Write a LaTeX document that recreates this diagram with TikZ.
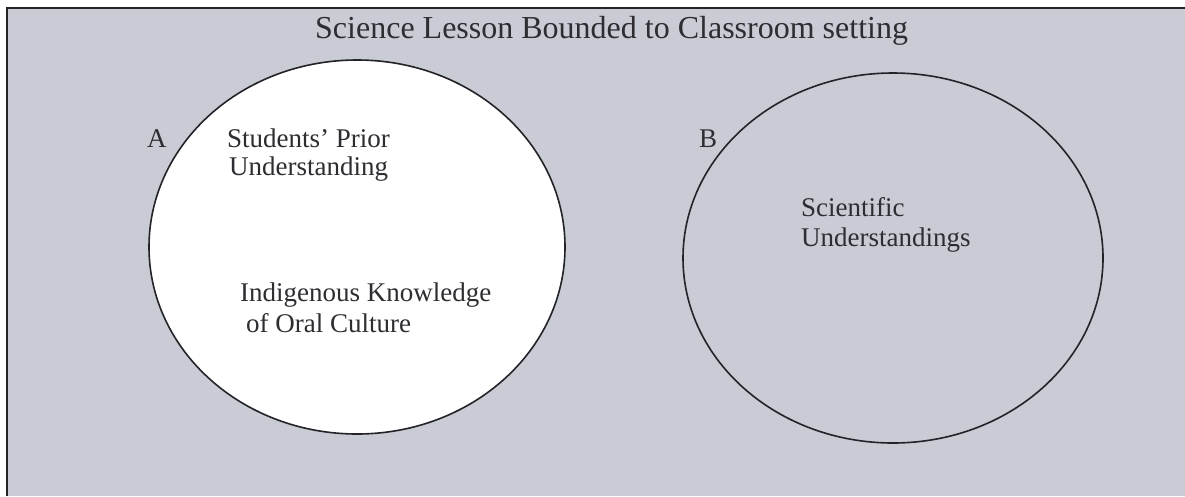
\documentclass[tikz,border=0pt]{standalone}
\usepackage{fontspec}
\setmainfont{Liberation Serif}
\usetikzlibrary{shapes.geometric}
\definecolor{bggray}{RGB}{201,204,213}
\definecolor{ink}{RGB}{45,45,50}
\definecolor{linecol}{RGB}{35,35,40}
\tikzset{
  txt/.style={anchor=base west, inner sep=0pt, text=ink, font=\fontsize{27}{30}\selectfont},
  ttl/.style={anchor=base west, inner sep=0pt, text=ink, font=\fontsize{32}{36}\selectfont},
  circ/.style={ellipse, draw=linecol, line width=1.6pt, inner sep=0pt}
}
\begin{document}
\begin{tikzpicture}[x=1pt,y=-1pt]
\useasboundingbox (0,0) rectangle (1185,496);
\fill[white] (0,0) rectangle (1185,496);
\fill[bggray] (7,8) rectangle (1185,496);
\draw[linecol, line width=1.2pt] (7,496) -- (7,8) -- (1185,8);
\node[ttl] (title) at (315,38) {Science Lesson Bounded to Classroom setting};
\node[circ, fill=white, minimum width=416pt, minimum height=374pt] (A) at (357,247) {};
\node[circ, minimum width=420pt, minimum height=370pt] (B) at (893,258) {};
\node[txt] (la) at (147,147) {A};
\node[txt] (lb) at (699,147) {B};
\node[txt] (sp) at (227,147.5) {Students’ Prior};
\node[txt] (un) at (229,175.5) {Understanding};
\node[txt] (ik) at (240,301.5) {Indigenous Knowledge};
\node[txt] (oc) at (246,332.5) {of Oral Culture};
\node[txt] (sc) at (801,216.5) {Scientific};
\node[txt] (su) at (801,246.5) {Understandings};
\end{tikzpicture}
\end{document}
